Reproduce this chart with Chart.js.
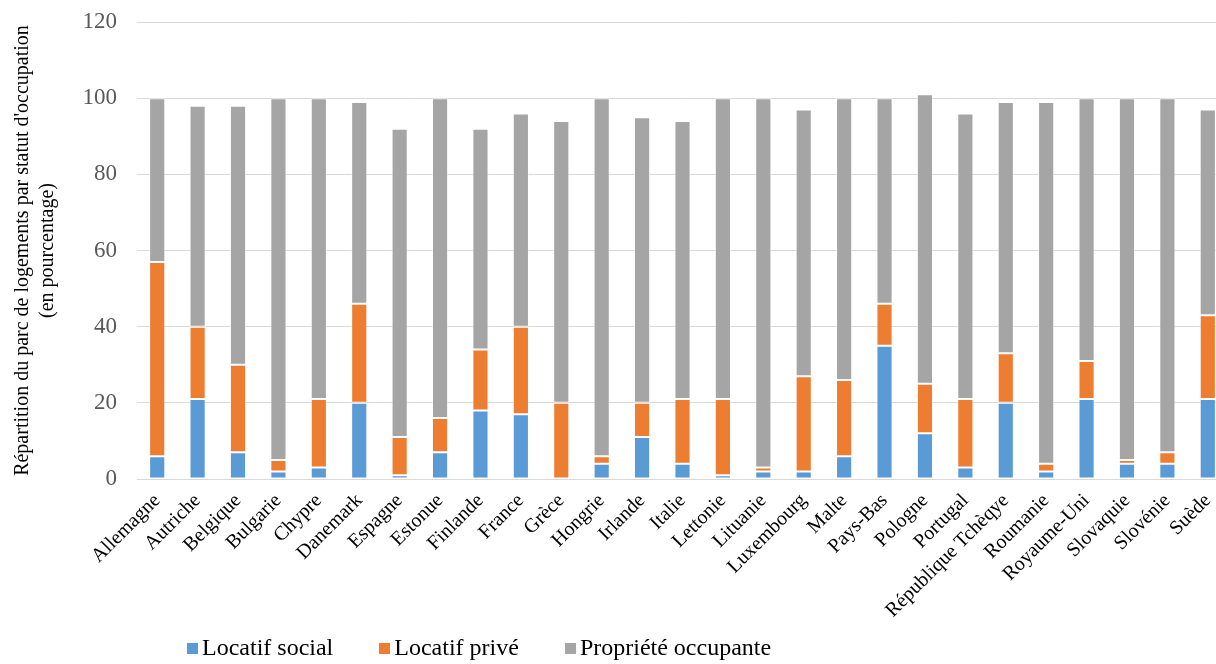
<!DOCTYPE html>
<html>
<head>
<meta charset="utf-8">
<script src="https://cdn.jsdelivr.net/npm/chart.js@4"></script>
<style>
  html, body { margin: 0; padding: 0; background: #fff; overflow: hidden; }
  #wrap { position: relative; width: 1216px; height: 664px; overflow: hidden; }
  #chart { position: absolute; left: 0; top: 0; }
  #legend {
    position: absolute; left: 187px; top: 634px;
    display: flex; gap: 46px;
    font-family: 'Liberation Serif', 'Times New Roman', serif; font-size: 24px; color: #000;
  }
  #legend .item { display: flex; align-items: center; gap: 4px; white-space: nowrap; }
  #legend .box { width: 11px; height: 11px; display: inline-block; margin-top: 2px; }
</style>
</head>
<body>
<div id="wrap">
  <canvas id="chart" width="1232" height="664"></canvas>
  <div id="legend"></div>
</div>
<script>
// data
const countries = ["Allemagne", "Autriche", "Belgique", "Bulgarie", "Chypre", "Danemark", "Espagne",
  "Estonue", "Finlande", "France", "Grèce", "Hongrie", "Irlande", "Italie", "Lettonie", "Lituanie",
  "Luxembourg", "Malte", "Pays-Bas", "Pologne", "Portugal", "République Tchèqye", "Roumanie",
  "Royaume-Uni", "Slovaquie", "Slovénie", "Suède"];
const social = [6, 21, 7, 2, 3, 20, 1, 7, 18, 17, 0, 4, 11, 4, 1, 2, 2, 6, 35, 12, 3, 20, 2, 21, 4, 4, 21];
const prive = [51, 19, 23, 3, 18, 26, 10, 9, 16, 23, 20, 2, 9, 17, 20, 1, 25, 20, 11, 13, 18, 13, 2, 10, 1, 3, 22];
const proprio = [43, 58, 68, 95, 79, 53, 81, 84, 58, 56, 74, 94, 75, 73, 79, 97, 70, 74, 54, 76, 75, 66, 95, 69, 95, 93, 54];
const yTicks = [0, 20, 40, 60, 80, 100, 120];

const serif = "'Liberation Serif', 'Times New Roman', serif";

function initChart() {
  const ctx = document.getElementById("chart").getContext("2d");
  const bar = (label, data, color) => ({
    label,
    data,
    backgroundColor: color,
    borderColor: "rgba(255,255,255,0.5)",
    borderWidth: 1,
    borderSkipped: false,
    stack: "a",
    barPercentage: 0.4,
    categoryPercentage: 1,
  });

  const chart = new Chart(ctx, {
    type: "bar",
    data: {
      labels: countries,
      datasets: [
        bar("Locatif social", social, "#5b9bd5"),
        bar("Locatif privé", prive, "#ed7d31"),
        bar("Propriété occupante", proprio, "#a5a5a5"),
      ],
    },
    options: {
      responsive: false,
      animation: false,
      layout: { padding: { top: 22, right: 4, left: 0, bottom: 5 } },
      plugins: {
        tooltip: { enabled: false },
        legend: { display: false },
      },
      scales: {
        x: {
          stacked: true,
          grid: { display: false },
          border: { color: "#d9d9d9" },
          afterFit: (scale) => {
            scale.height = 180;
            scale.paddingLeft = 0;
            scale.paddingRight = 0;
          },
          ticks: {
            font: { family: serif, size: 20 },
            color: "#000",
            minRotation: 45,
            maxRotation: 45,
            autoSkip: false,
            padding: 2,
          },
        },
        y: {
          stacked: true,
          min: 0,
          max: 120,
          afterBuildTicks: (axis) => { axis.ticks = yTicks.map((v) => ({ value: v })); },
          afterFit: (scale) => {
            scale.width = 137;
            scale.paddingTop = 0;
            scale.paddingBottom = 0;
          },
          grid: { color: "#d9d9d9", drawTicks: false },
          border: { display: false },
          ticks: {
            font: { family: serif, size: 23 },
            color: "#595959",
            padding: 20,
          },
          title: {
            display: true,
            text: ["Répartition du parc de logements par statut d'occupation", "(en pourcentage)"],
            font: { family: serif, size: 20, lineHeight: 1.25 },
            color: "#000",
            padding: { top: 10, bottom: 0 },
          },
        },
      },
    },
  });

  // legend as html so the box sits right against its text
  const legend = document.getElementById("legend");
  chart.data.datasets.forEach((ds) => {
    const item = document.createElement("span");
    item.className = "item";
    item.innerHTML = `<span class="box" style="background:${ds.backgroundColor}"></span>${ds.label}`;
    legend.appendChild(item);
  });
}

window.addEventListener("DOMContentLoaded", initChart);
</script>
</body>
</html>
